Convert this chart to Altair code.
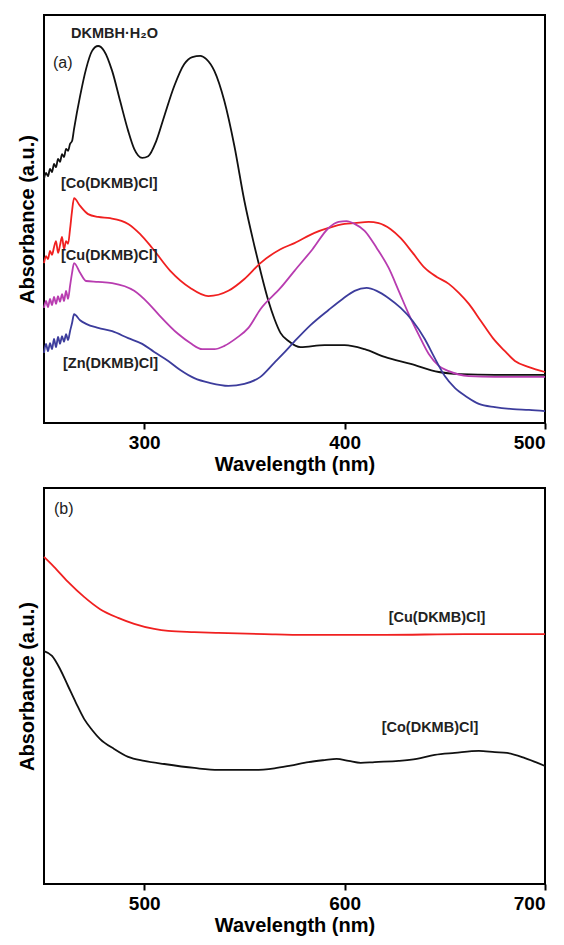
import altair as alt
import pandas as pd

# ---------------- Panel (a) data ----------------
a_black_wl = [250,251,252,253,254,255,256,257,258,259,260,261,262,263,264,265,268,271,274,277,280,284,288,292,295,299,302,306,310,315,320,324,328,331,335,340,345,350,355,358,362,365,368,372,378,390,400,410,420,433,447,458,475,500]
a_black_ab = [0.598,0.613,0.605,0.623,0.615,0.635,0.627,0.647,0.640,0.659,0.652,0.672,0.667,0.684,0.691,0.721,0.801,0.868,0.912,0.924,0.912,0.863,0.789,0.716,0.672,0.650,0.654,0.691,0.752,0.826,0.880,0.897,0.900,0.892,0.863,0.789,0.679,0.544,0.434,0.373,0.299,0.255,0.221,0.201,0.186,0.191,0.191,0.181,0.162,0.145,0.125,0.120,0.118,0.118]

a_co_wl = [250,251,252,253,254,255,256,257,258,259,260,261,262,263,264,265,268,272,277,283,292,298,304,313,323,332,342,350,358,368,375,385,392,400,405,412,417,423,428,434,440,446,452,457,462,468,474,480,485,492,500]
a_co_ab = [0.392,0.409,0.402,0.422,0.412,0.431,0.446,0.417,0.436,0.456,0.426,0.446,0.439,0.475,0.520,0.551,0.532,0.512,0.505,0.502,0.488,0.463,0.429,0.373,0.331,0.311,0.324,0.353,0.392,0.426,0.441,0.466,0.478,0.488,0.490,0.493,0.490,0.475,0.453,0.417,0.380,0.358,0.341,0.319,0.292,0.250,0.208,0.176,0.152,0.137,0.125]

a_cu_wl = [250,251,252,253,254,255,256,257,258,259,260,261,262,263,264,265,268,271,277,284,295,302,307,317,323,329,335,340,346,352,358,368,375,384,392,397,401,405,410,416,422,427,432,437,442,447,452,462,475,500]
a_cu_ab = [0.282,0.299,0.284,0.304,0.289,0.309,0.292,0.311,0.297,0.316,0.299,0.324,0.304,0.336,0.368,0.392,0.368,0.348,0.346,0.343,0.324,0.294,0.267,0.218,0.196,0.181,0.181,0.189,0.208,0.233,0.279,0.331,0.373,0.426,0.478,0.493,0.495,0.488,0.471,0.429,0.380,0.324,0.267,0.216,0.169,0.140,0.127,0.115,0.113,0.113]

a_zn_wl = [250,251,252,253,254,255,256,257,258,259,260,261,262,263,264,265,268,271,277,284,292,299,305,312,318,325,333,342,350,358,365,369,375,383,392,399,405,411,416,422,428,434,440,445,450,455,461,467,475,484,492,500]
a_zn_ab = [0.172,0.194,0.176,0.196,0.181,0.206,0.186,0.211,0.194,0.213,0.199,0.218,0.203,0.225,0.245,0.267,0.252,0.243,0.233,0.225,0.208,0.194,0.174,0.152,0.130,0.110,0.098,0.091,0.096,0.113,0.148,0.168,0.200,0.240,0.277,0.304,0.324,0.331,0.324,0.306,0.282,0.250,0.206,0.159,0.115,0.086,0.064,0.047,0.039,0.034,0.032,0.029]

# ---------------- Panel (b) data ----------------
b_cu_wl = [450,455,462,470,478,487,495,505,512,525,537,560,580,620,660,700]
b_cu_ab = [0.826,0.801,0.763,0.725,0.694,0.672,0.657,0.644,0.639,0.636,0.634,0.631,0.629,0.629,0.631,0.631]

b_co_wl = [450,454,458,462,466,470,474,478,485,492,500,510,525,537,555,565,573,582,590,596,602,608,615,627,636,645,655,667,675,681,690,700]
b_co_ab = [0.588,0.576,0.543,0.500,0.457,0.417,0.389,0.366,0.341,0.321,0.311,0.303,0.293,0.288,0.288,0.292,0.299,0.308,0.313,0.316,0.311,0.306,0.308,0.311,0.316,0.326,0.331,0.336,0.333,0.331,0.318,0.298]

# ---------------- labels ----------------
a_label_text = ["DKMBH\u00b7H\u2082O", "[Co(DKMB)Cl]", "[Cu(DKMB)Cl]", "[Zn(DKMB)Cl]"]
a_label_wl = [263.5, 258.5, 258.5, 259.5]
a_label_ab = [0.953, 0.586, 0.409, 0.145]

b_label_text = ["[Cu(DKMB)Cl]", "[Co(DKMB)Cl]"]
b_label_wl = [622, 618.5]
b_label_ab = [0.672, 0.394]

FONT = "Liberation Sans"

series_a = ["DKMBH", "Co", "Cu", "Zn"]
colors_a = ["#111111", "#f02020", "#b83cb0", "#3c3c9c"]


def long_df(pairs):
    rows = []
    for name, wl, ab in pairs:
        for w, v in zip(wl, ab):
            rows.append({"series": name, "wl": w, "ab": v})
    return pd.DataFrame(rows)


df_a = long_df([("DKMBH", a_black_wl, a_black_ab), ("Co", a_co_wl, a_co_ab),
                ("Cu", a_cu_wl, a_cu_ab), ("Zn", a_zn_wl, a_zn_ab)])
df_b = long_df([("Cu", b_cu_wl, b_cu_ab), ("Co", b_co_wl, b_co_ab)])


def xaxis(vals):
    return alt.Axis(values=vals, title="Wavelength (nm)", grid=False, domain=False,
                    tickSize=6, tickWidth=2, tickColor="black",
                    labelFont=FONT, labelFontSize=19, labelFontWeight="bold",
                    labelColor="black", labelPadding=4,
                    titleFont=FONT, titleFontSize=20, titleFontWeight="bold",
                    titleColor="black", titlePadding=2, format="d")


yaxis = alt.Axis(title="Absorbance (a.u.)", ticks=False, labels=False, domain=False,
                 grid=False, titleFont=FONT, titleFontSize=20, titleFontWeight="bold",
                 titleColor="black", titlePadding=7)

# Panel (a)
lines_a = alt.Chart(df_a).mark_line(strokeWidth=1.8, interpolate="monotone").encode(
    x=alt.X("wl:Q", scale=alt.Scale(domain=[250, 500], nice=False, zero=False), axis=xaxis([300, 400, 500])),
    y=alt.Y("ab:Q", scale=alt.Scale(domain=[0, 1], nice=False), axis=yaxis),
    color=alt.Color("series:N", scale=alt.Scale(domain=series_a, range=colors_a), legend=None),
    detail="series:N",
)
lab_a = alt.Chart(pd.DataFrame({"t": a_label_text, "wl": a_label_wl, "ab": a_label_ab})).mark_text(
    align="left", baseline="middle", font=FONT, fontSize=14.5, fontWeight="bold", color="#222222"
).encode(x="wl:Q", y="ab:Q", text="t:N")
tag_a = alt.Chart(pd.DataFrame({"t": ["(a)"], "wl": [254.5], "ab": [0.882]})).mark_text(
    align="left", baseline="middle", font=FONT, fontSize=16, color="#222222"
).encode(x="wl:Q", y="ab:Q", text="t:N")
panel_a = alt.layer(lines_a, lab_a, tag_a).properties(width=501, height=408)

# Panel (b)
lines_b = alt.Chart(df_b).mark_line(strokeWidth=1.8, interpolate="monotone").encode(
    x=alt.X("wl:Q", scale=alt.Scale(domain=[450, 700], nice=False, zero=False), axis=xaxis([500, 600, 700])),
    y=alt.Y("ab:Q", scale=alt.Scale(domain=[0, 1], nice=False), axis=yaxis),
    color=alt.Color("series:N", scale=alt.Scale(domain=["Cu", "Co"], range=["#f02020", "#111111"]), legend=None),
    detail="series:N",
)
lab_b = alt.Chart(pd.DataFrame({"t": b_label_text, "wl": b_label_wl, "ab": b_label_ab})).mark_text(
    align="left", baseline="middle", font=FONT, fontSize=14.5, fontWeight="bold", color="#222222"
).encode(x="wl:Q", y="ab:Q", text="t:N")
tag_b = alt.Chart(pd.DataFrame({"t": ["(b)"], "wl": [455], "ab": [0.947]})).mark_text(
    align="left", baseline="middle", font=FONT, fontSize=16, color="#222222"
).encode(x="wl:Q", y="ab:Q", text="t:N")
panel_b = alt.layer(lines_b, lab_b, tag_b).properties(width=501, height=396)

chart = alt.vconcat(panel_a, panel_b, spacing=12).resolve_scale(color="independent").properties(
    padding={"left": 8, "top": 6, "right": 5, "bottom": 5},
    background="white",
).configure_view(stroke="black", strokeWidth=2)

chart.save("out.html", embed_options={"renderer": "svg", "actions": False})
